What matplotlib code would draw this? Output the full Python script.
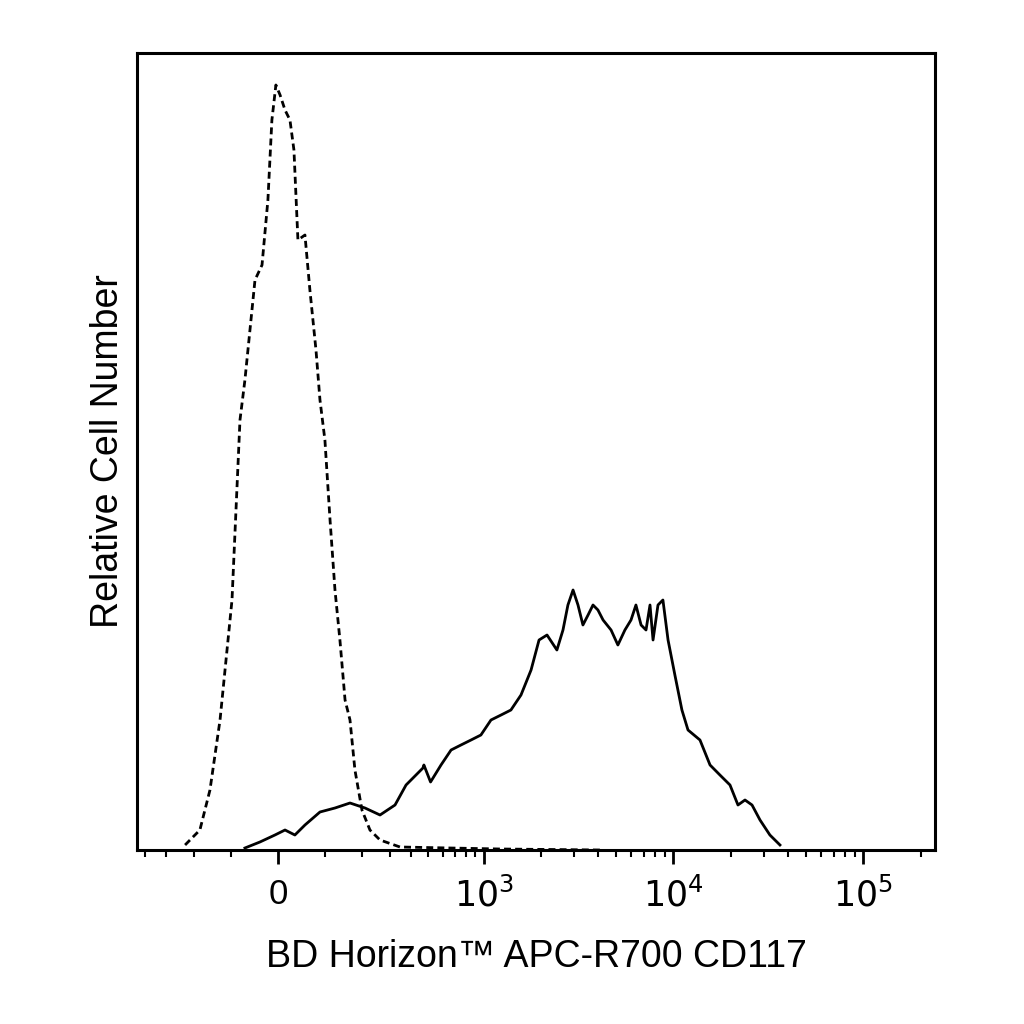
import numpy as np
import matplotlib
matplotlib.use("Agg")
import matplotlib.pyplot as plt
from matplotlib.ticker import FixedLocator, NullFormatter

plt.rcParams['font.family'] = ['Liberation Sans', 'DejaVu Sans']
C = 166.0
LN10 = np.log(10)
def fwd(x): return np.arcsinh(np.asarray(x) / C) / LN10
def inv(d): return C * np.sinh(np.asarray(d) * LN10)

# positions read in display decades from zero, converted to fluorescence values
iso_pos = [-0.489,-0.411,-0.358,-0.305,-0.242,-0.2,-0.174,-0.121,-0.084,-0.053,-0.032,-0.011,0.011,0.037,0.063,0.084,0.105,0.142,0.168,0.2,0.221,0.247,0.274,0.3,0.326,0.353,0.379,0.405,0.442,0.484,0.537,0.642,0.905,1.168,1.695]
iso_cnt = [5,20,60,130,250,430,470,570,585,650,730,765,755,740,730,700,610,615,560,500,450,410,330,260,210,150,130,80,40,20,10,3,2,1,0]
cd117_pos = [-0.174,-0.095,-0.016,0.037,0.089,0.142,0.221,0.3,0.379,0.458,0.537,0.616,0.674,0.763,0.768,0.803,0.858,0.911,0.963,1.016,1.068,1.121,1.174,1.226,1.279,1.332,1.374,1.416,1.468,1.5,1.526,1.553,1.579,1.605,1.632,1.658,1.684,1.711,1.753,1.789,1.826,1.858,1.884,1.911,1.937,1.958,1.974,2.0,2.026,2.053,2.089,2.126,2.158,2.221,2.274,2.326,2.379,2.421,2.458,2.495,2.537,2.589,2.642]
cd117_cnt = [2,8,15,20,15,25,38,42,47,42,35,45,65,82,85,68,85,100,105,110,115,130,135,140,155,180,210,215,200,220,245,260,245,225,235,245,240,230,220,205,220,230,245,225,220,245,210,245,250,210,175,140,120,110,85,75,65,45,50,45,30,15,5]

iso_x = inv(iso_pos)
cd_x = inv(cd117_pos)

fig = plt.figure(figsize=(10.24, 10.24), dpi=100)
ax = fig.add_axes([137/1024, 1-850/1024, (935-137)/1024, (850-53)/1024])
ax.set_xscale('function', functions=(fwd, inv))
ax.plot(iso_x, iso_cnt, color='black', lw=2, ls=(0, (2.5, 1.5)))
ax.plot(cd_x, cd117_cnt, color='black', lw=2)
ax.set_xlim(inv(-0.742), inv(3.458))
ax.set_ylim(0, 797)
ax.set_yticks([])
for s in ax.spines.values():
    s.set_linewidth(2.2)
ax.set_xticks([0, 1e3, 1e4, 1e5])
ax.set_xticklabels(['0', r'$10^3$', r'$10^4$', r'$10^5$'], fontsize=25)
minor = [-400,-300,-200,-100,100,200,300,400,500,600,700,800,900]
minor += [k*1e3 for k in range(2,10)] + [k*1e4 for k in range(2,10)] + [k*1e5 for k in range(2,3)]
ax.xaxis.set_minor_locator(FixedLocator(minor))
ax.xaxis.set_minor_formatter(NullFormatter())
ax.tick_params(axis='x', which='major', length=10, width=2, direction='out', pad=10)
ax.tick_params(axis='x', which='minor', length=5, width=1.5, direction='out')
ax.set_xlabel('BD Horizon™ APC-R700 CD117', fontsize=27, labelpad=18)
ax.set_ylabel('Relative Cell Number', fontsize=27, labelpad=8)
fig.savefig('out.png', dpi=100)
